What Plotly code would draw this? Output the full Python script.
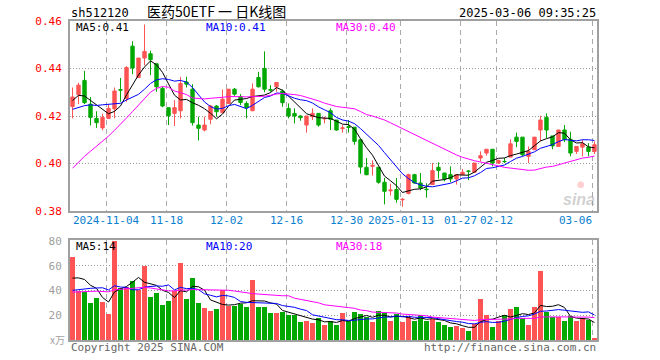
import plotly.graph_objects as go

# ---------------- data ----------------
open_ = [0.424, 0.429, 0.435, 0.425, 0.419, 0.415, 0.419, 0.423, 0.4311, 0.4274,
         0.4494, 0.4362, 0.4444, 0.4462, 0.442, 0.4316, 0.4235, 0.4211, 0.4222, 0.4343,
         0.4313, 0.4162, 0.4141, 0.4186, 0.4242, 0.4214, 0.4253, 0.4313, 0.4281, 0.4253,
         0.4222, 0.4362, 0.4400, 0.4311, 0.4323, 0.4305, 0.4232, 0.4211, 0.4200, 0.4162,
         0.4197, 0.4211, 0.4188, 0.4222, 0.4183, 0.4147, 0.4155, 0.4153, 0.4100, 0.3984,
         0.3988, 0.3984, 0.3921, 0.3885, 0.3890, 0.3847, 0.3874, 0.3953, 0.3918, 0.3892,
         0.3911, 0.3984, 0.3960, 0.3953, 0.3935, 0.3953, 0.3968, 0.3963, 0.4023, 0.4044,
         0.4060, 0.4002, 0.4009, 0.4027, 0.4111, 0.4111, 0.4030, 0.4058, 0.4141, 0.4194,
         0.4116, 0.4072, 0.4141, 0.4102, 0.4051, 0.4069, 0.4069, 0.4051]
high = [0.432, 0.434, 0.439, 0.428, 0.422, 0.421, 0.425, 0.432, 0.436, 0.441,
        0.4515, 0.4444, 0.4585, 0.4475, 0.442, 0.4323, 0.4235, 0.4267, 0.4365, 0.4365,
        0.4334, 0.4197, 0.4197, 0.4246, 0.4246, 0.4311, 0.4313, 0.4318, 0.4292, 0.4262,
        0.4337, 0.4386, 0.4472, 0.4330, 0.4341, 0.4311, 0.4253, 0.4232, 0.4203, 0.4200,
        0.4232, 0.4211, 0.4197, 0.4232, 0.4183, 0.4162, 0.4183, 0.4153, 0.4100, 0.4023,
        0.4013, 0.3984, 0.3939, 0.3915, 0.3939, 0.3855, 0.3957, 0.3957, 0.3960, 0.3917,
        0.4002, 0.4005, 0.3960, 0.3988, 0.3953, 0.3977, 0.3972, 0.4002, 0.4051, 0.4060,
        0.4060, 0.4016, 0.4023, 0.4102, 0.4130, 0.4111, 0.4072, 0.4111, 0.4201, 0.4211,
        0.4116, 0.4141, 0.4162, 0.4134, 0.4072, 0.4100, 0.4086, 0.4093]
low = [0.419, 0.425, 0.425, 0.416, 0.415, 0.414, 0.419, 0.419, 0.426, 0.426,
       0.4376, 0.436, 0.4413, 0.4372, 0.4302, 0.4237, 0.4162, 0.4158, 0.419, 0.432,
       0.416, 0.4097, 0.4135, 0.4165, 0.4197, 0.4214, 0.4253, 0.4285, 0.4246, 0.419,
       0.4222, 0.432, 0.4300, 0.4302, 0.4302, 0.4239, 0.419, 0.4169, 0.4180, 0.4130,
       0.4183, 0.4155, 0.4169, 0.4141, 0.4138, 0.4130, 0.4130, 0.4079, 0.3957, 0.3950,
       0.3949, 0.3915, 0.3828, 0.3865, 0.3835, 0.3818, 0.3870, 0.3915, 0.3888, 0.3856,
       0.3911, 0.3936, 0.3925, 0.3921, 0.3911, 0.3950, 0.3930, 0.3963, 0.4009, 0.4033,
       0.3988, 0.3998, 0.4002, 0.4027, 0.4069, 0.4030, 0.4002, 0.4058, 0.4093, 0.4107,
       0.4060, 0.4072, 0.4090, 0.4030, 0.4040, 0.4030, 0.4030, 0.4040]
close = [0.428, 0.433, 0.4256, 0.4194, 0.4172, 0.4194, 0.4232, 0.4305, 0.4309, 0.4404,
         0.4402, 0.4444, 0.4472, 0.4437, 0.4323, 0.4242, 0.4201, 0.4235, 0.4337, 0.4334,
         0.4172, 0.4148, 0.4162, 0.4242, 0.4218, 0.4271, 0.4313, 0.4292, 0.4257, 0.4235,
         0.4313, 0.4323, 0.4313, 0.4309, 0.4341, 0.4256, 0.4200, 0.4200, 0.4193, 0.4200,
         0.4211, 0.4162, 0.4190, 0.4186, 0.4141, 0.4150, 0.4152, 0.4093, 0.3985, 0.3953,
         0.3992, 0.3921, 0.3883, 0.3888, 0.3849, 0.3849, 0.3953, 0.3918, 0.3897, 0.3890,
         0.3970, 0.3971, 0.3935, 0.3935, 0.3953, 0.3963, 0.3967, 0.4002, 0.4033, 0.4060,
         0.4002, 0.4013, 0.4008, 0.4083, 0.4093, 0.4037, 0.4051, 0.4111, 0.4183, 0.4141,
         0.4074, 0.4141, 0.4100, 0.4044, 0.4072, 0.4083, 0.4051, 0.4079]
# volume, 万
volume = [67.4, 39.3, 38.7, 29.7, 33.6, 30.6, 20.7, 79.7, 42.3, 42.9,
          47.8, 40.1, 60.1, 34.7, 37.9, 28.1, 31.4, 39.6, 62.5, 33.0,
          50.2, 29.8, 25.7, 23.2, 24.8, 40.1, 27.3, 27.3, 29.2, 26.5,
          48.3, 27.0, 26.5, 21.6, 21.6, 22.7, 20.2, 20.5, 14.2, 15.6,
          13.9, 17.5, 12.3, 15.0, 12.3, 21.6, 15.0, 22.4, 21.3, 18.8,
          14.2, 23.7, 21.6, 15.0, 21.0, 14.2, 18.8, 15.0, 20.5, 15.0,
          16.9, 14.2, 12.3, 10.6, 11.5, 9.3, 7.4, 12.8, 32.8, 20.5,
          10.6, 15.6, 20.5, 25.4, 27.0, 17.7, 12.3, 27.0, 55.7, 22.4,
          18.8, 18.8, 15.6, 19.7, 15.6, 17.7, 16.1, 1.4]
# sessions before the visible window (estimated from the moving-average lines)
prior_close = [0.352, 0.355, 0.356, 0.354, 0.357, 0.358, 0.356, 0.357, 0.359, 0.360,
               0.362, 0.360, 0.368, 0.385, 0.400, 0.430, 0.470, 0.455, 0.458, 0.460,
               0.425, 0.418, 0.416, 0.420, 0.4165, 0.422, 0.427, 0.429, 0.4265]
prior_volume = [28, 30, 33, 29, 31, 35, 30, 32, 30, 33,
                33, 45, 52, 58, 60, 48, 42, 40, 36, 35,
                33, 30, 28, 31, 29, 38.3, 45.2, 53.2, 45.9]

date_labels = ["2024-11-04", "11-18", "12-02", "12-16", "12-30",
               "2025-01-13", "01-27", "02-12", "03-06"]
date_index = [6, 16, 26, 36, 46, 55, 65, 71, 87]

price_ticks = [0.38, 0.40, 0.42, 0.44, 0.46]
volume_ticks = [20, 40, 60, 80]

code = "sh512120"
title = "医药50ETF 一 日K线图"
stamp = "2025-03-06 09:35:25"

# ---------------- helpers ----------------
def moving_avg(prior, vals, n):
    full = list(prior) + list(vals)
    out = []
    for k in range(len(prior), len(full)):
        seg = full[k - n + 1:k + 1]
        out.append(sum(seg) / len(seg))
    return out

N = len(close)
x = list(range(N))
RED = "#ff5454"
GREEN = "#00a800"
colors = [RED if c >= o else GREEN for o, c in zip(open_, close)]

ma_p = {n: moving_avg(prior_close, close, n) for n in (5, 10, 30)}
ma_v = {n: moving_avg(prior_volume, volume, n) for n in (5, 10, 30)}
ma_col = {5: "#000000", 10: "#0000ff", 30: "#ff00ff"}

# layout geometry (pixels)
W, H = 660, 360
L, R, T, B = 70, 597, 21, 340
main_top, main_bot = 21, 211
vol_top, vol_bot = 240, 340
ph = B - T
pw = R - L

def px_x(px):
    return (px - L) / pw

def px_y(py):
    return (B - py) / ph

fig = go.Figure()

fig.add_trace(go.Candlestick(
    x=x, open=open_, high=high, low=low, close=close,
    increasing=dict(line=dict(color=RED, width=1), fillcolor=RED),
    decreasing=dict(line=dict(color=GREEN, width=1), fillcolor=GREEN),
    whiskerwidth=0, xaxis="x", yaxis="y", showlegend=False, hoverinfo="skip"))

for n in (5, 10, 30):
    fig.add_trace(go.Scatter(x=x, y=ma_p[n], mode="lines",
                             line=dict(color=ma_col[n], width=1),
                             xaxis="x", yaxis="y", showlegend=False, hoverinfo="skip"))

fig.add_trace(go.Bar(x=x, y=volume, marker=dict(color=colors, line=dict(width=0)),
                     width=0.8, xaxis="x2", yaxis="y2", showlegend=False, hoverinfo="skip"))
for n in (5, 10, 30):
    fig.add_trace(go.Scatter(x=x, y=ma_v[n], mode="lines",
                             line=dict(color=ma_col[n], width=1),
                             xaxis="x2", yaxis="y2", showlegend=False, hoverinfo="skip"))

xr = [-0.42, N - 1 + 0.42]
grid_x = [i - 0.3 for i in date_index]
mono = "DejaVu Sans Mono"
frame = "#a0a0a0"

xcommon = dict(range=xr, tickmode="array", tickvals=grid_x, showticklabels=False,
               showgrid=True, gridcolor="#aaaaaa", griddash="5px,4px", gridwidth=1,
               zeroline=False, showline=True, mirror=True, linecolor=frame, linewidth=2,
               ticks="", rangeslider=dict(visible=False), fixedrange=True)

fig.update_layout(
    width=W, height=H, paper_bgcolor="white", plot_bgcolor="white",
    margin=dict(l=L, r=W - R, t=T, b=H - B),
    boxgap=0.2, bargap=0,
    xaxis=dict(domain=[0, 1], anchor="y", **xcommon),
    xaxis2=dict(domain=[0, 1], anchor="y2", **xcommon),
    yaxis=dict(domain=[px_y(main_bot), 1], anchor="x", range=[0.38, 0.46],
               tickmode="array", tickvals=price_ticks,
               ticktext=[f"{v:.2f}" for v in price_ticks],
               tickfont=dict(family=mono, size=11, color="#ff0000"),
               showgrid=True, gridcolor="#999999", griddash="1px,2px", gridwidth=1,
               zeroline=False, showline=True, mirror=True, linecolor=frame, linewidth=2,
               ticks="", ticklabelstandoff=4, fixedrange=True),
    yaxis2=dict(domain=[0, px_y(vol_top)], anchor="x2", range=[0, 80.8],
                tickmode="array", tickvals=volume_ticks,
                ticktext=[str(v) for v in volume_ticks],
                tickfont=dict(family=mono, size=11, color="#a0a0a0"),
                showgrid=True, gridcolor="#999999", griddash="1px,2px", gridwidth=1,
                zeroline=False, showline=True, mirror=True, linecolor=frame, linewidth=2,
                ticks="", ticklabelstandoff=4, fixedrange=True),
)

ann = []
def text(xp, yp, s, color="#000", size=11, anchor="left", family=mono, **kw):
    ann.append(dict(x=px_x(xp), y=px_y(yp), xref="paper", yref="paper", text=s,
                    showarrow=False, xanchor=anchor, yanchor="middle", borderpad=0,
                    font=dict(family=family, size=size, color=color), **kw))

text(70, 13, code, size=12)
text(216, 11, title, size=14, anchor="center", family="Noto Sans CJK SC")
text(597, 13, stamp, size=12, anchor="right")

text(75, 27.5, f"MA5:{ma_p[5][-1]:.2f}", color=ma_col[5])
text(205, 27.5, f"MA10:{ma_p[10][-1]:.2f}", color=ma_col[10])
text(335, 27.5, f"MA30:{ma_p[30][-1]:.2f}", color=ma_col[30])

text(75, 247, f"MA5:{ma_v[5][-1]:.0f}", color=ma_col[5])
text(205, 247, f"MA10:{ma_v[10][-1]:.0f}", color=ma_col[10])
text(335, 247, f"MA30:{ma_v[30][-1]:.0f}", color=ma_col[30])

for k, (i, lab) in enumerate(zip(date_index, date_labels)):
    last = k == len(date_index) - 1
    ann.append(dict(x=grid_x[k], y=px_y(221), xref="x", yref="paper", text=lab,
                    showarrow=False, xanchor="right" if last else "center",
                    yanchor="middle", borderpad=0,
                    font=dict(family=mono, size=11, color="#0a7fd0")))

text(66, 339, "x万", color="#a0a0a0", size=10, anchor="right", family="Noto Sans CJK SC")
text(70, 347, "Copyright 2025 SINA.COM", color="#666666", size=11)
text(597, 347, "http://finance.sina.com.cn", color="#666666", size=11, anchor="right")
text(596, 200, "<b><i>sina</i></b>", color="rgba(150,150,150,0.45)", size=16,
     anchor="right", family="Arial")
text(581, 184, "●", color="rgba(255,120,120,0.35)", size=9, anchor="center", family="DejaVu Sans")

fig.update_layout(annotations=ann)
fig.write_html("out.html", config={"displayModeBar": False, "staticPlot": True},
               post_script="document.body.style.margin='0';document.body.style.overflow='hidden';")
